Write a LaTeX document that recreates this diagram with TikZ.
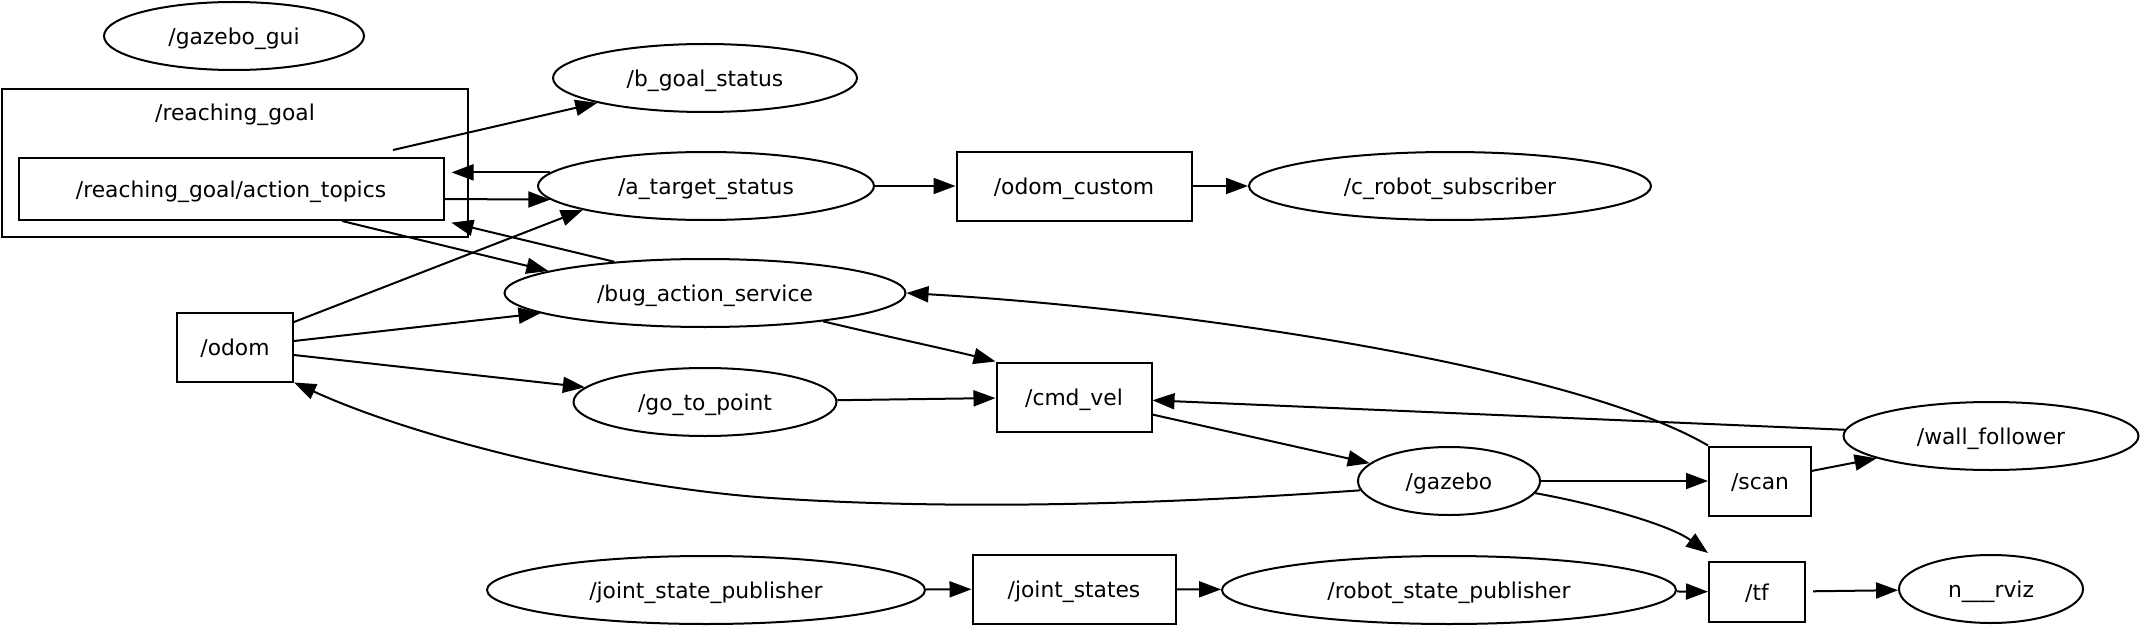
\documentclass[tikz,border=0pt]{standalone}
\usepackage{fontspec}
\setmainfont{DejaVu Sans}
\usepackage{tikz}
\usetikzlibrary{shapes,arrows.meta,positioning,calc}
\tikzset{
rosnode/.style = {draw, ellipse, inner sep=0pt, minimum height=34pt, minimum width=#1},
topic/.style = {draw, rectangle, inner sep=0pt, minimum height=34.5pt, minimum width=#1},
cluster/.style = {draw, rectangle, inner sep=0pt, minimum width=233pt, minimum height=74pt},
link/.style = {->, line width=1pt}
}

\begin{document}
\begin{tikzpicture}[x=0.5pt, y=-0.5pt, line width=1pt, >={Triangle[length=11pt,width=8pt]},
    every node/.style={font=\fontsize{10.9pt}{13pt}\selectfont, text height=11pt, text depth=2.3pt}]
    \useasboundingbox (0,0) rectangle (2141,626);
    % cluster
    \node[cluster] (rg) at (235,163) {};
    \node (rgtitle) at (235,112) {/reaching\_goal};
    \coordinate (rgout) at (393,150);
    % nodes and topics
    \node[rosnode=130pt] (gzg) at (234,36) {/gazebo\_gui};
    \node[topic=212.5pt, minimum height=31pt] (art) at (231,189) {/reaching\_goal/action\_topics};
    \node[topic=58pt] (odom) at (235,347) {/odom};
    \node[rosnode=152pt] (bgs) at (705,78) {/b\_goal\_status};
    \node[rosnode=168pt] (ats) at (706,186) {/a\_target\_status};
    \node[rosnode=200.5pt] (bug) at (705,293) {/bug\_action\_service};
    \node[rosnode=131.5pt] (gtp) at (705,402) {/go\_to\_point};
    \node[rosnode=219pt] (jsp) at (706,590) {/joint\_state\_publisher};
    \node[topic=117.5pt] (odc) at (1074,186) {/odom\_custom};
    \node[topic=77.5pt] (cmd) at (1074,397) {/cmd\_vel};
    \node[topic=101.5pt] (js) at (1074,589) {/joint\_states};
    \node[rosnode=201pt] (crs) at (1450,186) {/c\_robot\_subscriber};
    \node[rosnode=91pt] (gaz) at (1449,481) {/gazebo};
    \node[rosnode=227pt] (rsp) at (1449,590) {/robot\_state\_publisher};
    \node[topic=51pt] (scan) at (1760,481) {/scan};
    \node[topic=48pt, minimum height=30pt] (tf) at (1757,592) {/tf};
    \node[rosnode=147.5pt] (wf) at (1991,436) {/wall\_follower};
    \node[rosnode=92pt] (rviz) at (1991,589) {n\_\_\_rviz};
    % connections
    \draw[link] (rgout) -- (bgs);
    \draw[link, shorten >=3.5pt] (ats.175) -- (ats.175 -| art.east);
    \draw[link] ([yshift=-5pt]art.east) -- (ats.185);
    \draw[link] ([xshift=55.5pt]art.south) -- (bug.172);
    \draw[link, shorten >=3.5pt] (bug.161) -- (art.south east);
    \draw[link] ([yshift=12.5pt]odom.east) -- (ats.191);
    \draw[link] ([yshift=3pt]odom.east) -- (bug.187);
    \draw[link] ([yshift=-4pt]odom.east) -- (gtp.173);
    \draw[link] (gaz.186) .. controls (1150,505) and (950,510) .. (771,498)
        .. controls (621,488) and (420,440) .. (odom.south east);
    \draw[link] (ats) -- (odc);
    \draw[link] (odc) -- (crs);
    \draw[link] (bug) .. controls (880,335) and (950,350) .. (cmd.north west);
    \draw[link] (gtp) -- (cmd);
    \draw[link] (wf) -- (cmd);
    \draw[link] (cmd) -- (gaz);
    \draw[link] (scan.north west) .. controls (1580,370) and (1200,310) .. (bug.east);
    \draw[link] (gaz) -- (scan);
    \draw[link] (gaz.-8) .. controls (1600,505) and (1670,525) .. ([yshift=4pt]tf.north west);
    \draw[link] (scan) -- (wf);
    \draw[link] (jsp) -- (js);
    \draw[link] (js) -- (rsp);
    \draw[link] (rsp) -- (tf);
    \draw[link, shorten <=3.5pt] (tf) -- (rviz);
\end{tikzpicture}
\end{document}
